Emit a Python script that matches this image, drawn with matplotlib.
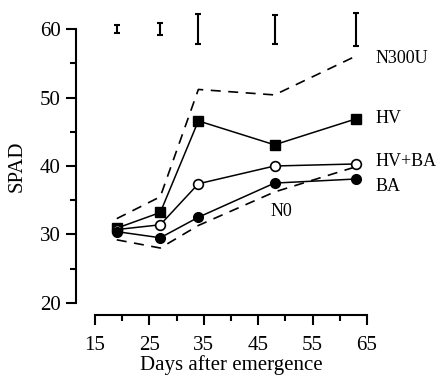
import matplotlib
matplotlib.use('Agg')
import matplotlib.pyplot as plt
from matplotlib.ticker import MultipleLocator

plt.rcParams['font.family'] = ['Liberation Serif', 'DejaVu Serif']

days = [19, 27, 34, 48, 63]
hv = [30.9, 33.2, 46.6, 43.1, 46.9]
hv_ba = [30.7, 31.4, 37.4, 40.0, 40.3]
ba = [30.4, 29.5, 32.5, 37.5, 38.1]
n300u = [32.3, 35.5, 51.2, 50.4, 56.1]
n0 = [29.2, 28.0, 31.3, 36.2, 39.9]
err_y = [60, 60, 60, 60, 60]
err = [0.6, 0.85, 2.2, 2.1, 2.4]
xticks = [15, 25, 35, 45, 55, 65]

fig = plt.figure(figsize=(4.38, 3.76), dpi=100)
ax = fig.add_axes([95 / 438, 1 - 302.7 / 376, 272 / 438, 273.4 / 376])

ax.plot(days, n300u, 'k-', lw=1.2, dashes=(6, 4.5), clip_on=False)
ax.plot(days, n0, 'k-', lw=1.2, dashes=(6, 4.5), clip_on=False)
ax.plot(days, hv, 'k-', marker='s', ms=7, lw=1.1, clip_on=False)
ax.plot(days, hv_ba, 'k-', marker='o', ms=7, mfc='white', mew=1.2, lw=1.1, clip_on=False)
ax.plot(days, ba, 'k-', marker='o', ms=7, lw=1.1, clip_on=False)
ax.errorbar(days, err_y, yerr=err, fmt='none', ecolor='k', elinewidth=1.5,
            capsize=2, capthick=1.5, clip_on=False)

ax.text(66.5, 55.8, 'N300U', fontsize=13, va='center')
ax.text(66.5, 46.9, 'HV', fontsize=13, va='center')
ax.text(66.5, 40.6, 'HV+BA', fontsize=13, va='center')
ax.text(66.5, 37.0, 'BA', fontsize=13, va='center')
ax.text(49.3, 33.3, 'N0', fontsize=13, va='center', ha='center')

ax.set_xlim(15, 65)
ax.set_ylim(20, 60)
ax.set_xticks(xticks)
ax.xaxis.set_minor_locator(MultipleLocator(5))
ax.yaxis.set_major_locator(MultipleLocator(10))
ax.yaxis.set_minor_locator(MultipleLocator(5))
ax.spines['top'].set_visible(False)
ax.spines['right'].set_visible(False)
ax.spines['left'].set_position(('outward', 14))
ax.spines['bottom'].set_position(('outward', 9))
for s in ['left', 'bottom']:
    ax.spines[s].set_linewidth(1.5)
ax.tick_params(which='major', length=7, width=1.5, labelsize=15)
ax.tick_params(which='minor', length=4, width=1.5)
ax.tick_params(axis='x', pad=8)
ax.set_xlabel('Days after emergence', fontsize=15, labelpad=0)
ax.set_ylabel('SPAD', fontsize=15, labelpad=10)

fig.savefig('out.png', dpi=100)
